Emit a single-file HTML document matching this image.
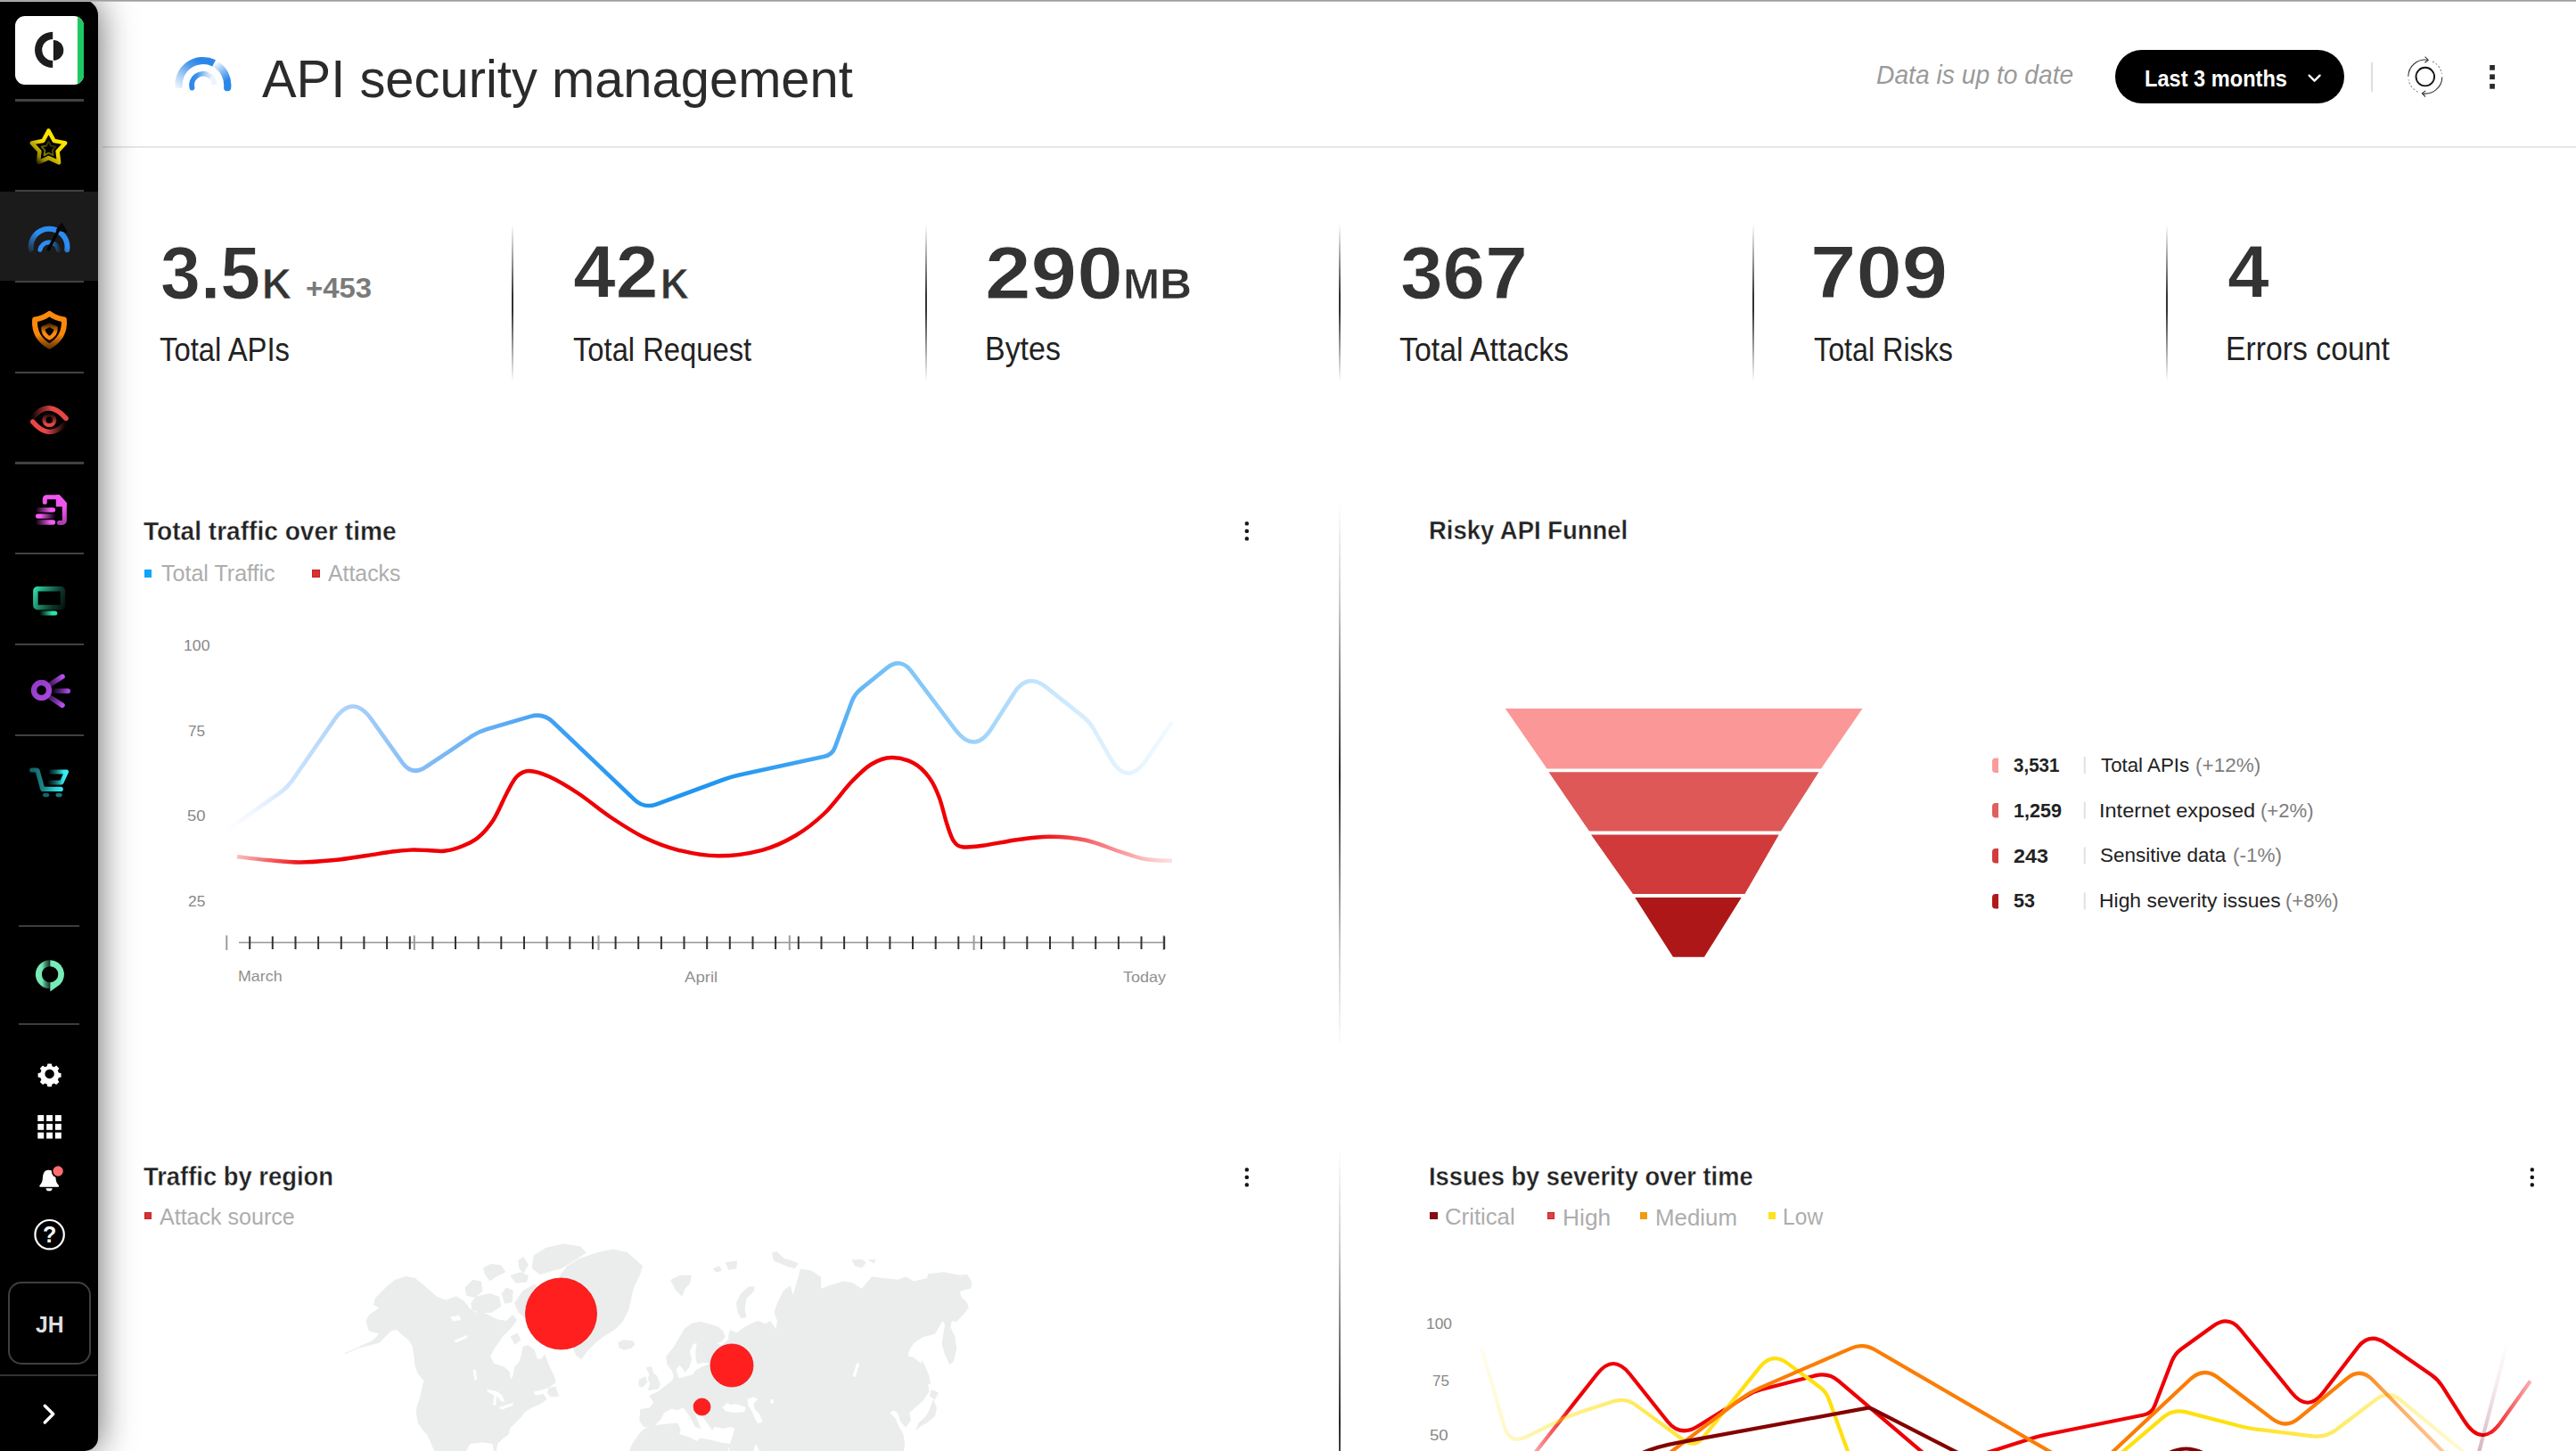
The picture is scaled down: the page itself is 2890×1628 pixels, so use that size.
<!DOCTYPE html>
<html lang="en">
<head>
<meta charset="utf-8">
<title>API security management</title>
<style>
*{box-sizing:border-box;margin:0;padding:0}
html,body{width:2890px;height:1628px;overflow:hidden;background:#fff}
body{font-family:"Liberation Sans",sans-serif;color:#222;position:relative}
.abs{position:absolute}
.t{position:absolute;white-space:nowrap;line-height:1;transform-origin:0 0}
/* top hairline */
#topline{left:0;top:0;width:2890px;height:2px;background:linear-gradient(#939393,#c4c4c4);z-index:6}
/* sidebar */
#side{left:0;top:0;width:110px;height:1628px;background:#000;border-radius:0 17px 15px 0;box-shadow:0 0 40px rgba(0,0,0,.62);z-index:5}
#side .sep{position:absolute;left:17.3px;width:76.6px;height:2.3px;background:#424242}
#side .sep2{position:absolute;left:21px;width:68px;height:2px;background:#3d3d3d}
#side .active{position:absolute;left:0;top:215.3px;width:110px;height:99.6px;background:#1b1b1b}
#logo{position:absolute;left:17px;top:18px;width:77px;height:77px;background:#fff;border-radius:11px;overflow:hidden}
#logo i{position:absolute;right:0;top:0;width:7px;height:77px;background:#1dc962}
#side svg{position:absolute;overflow:visible}
#jh{position:absolute;left:9px;top:1438px;width:93px;height:93px;border:2px solid #3f3f3f;border-radius:15px}
#jh span{font-size:25px;font-weight:bold;color:#dedede}
/* header */
#hline{left:115px;top:164px;width:2775px;height:2px;background:#e6e6e6}
#title{font-size:58.5px;color:#2b2b2b}
#upd{font-size:29px;font-style:italic;color:#9a9a9a}
#btn{left:2373px;top:56px;width:257px;height:60px;border-radius:30px;background:#000}
#btn span{position:absolute;font-size:26.5px;font-weight:bold;color:#fff;line-height:1;white-space:nowrap;transform-origin:0 0}
#hdiv{left:2660px;top:70px;width:2px;height:33px;background:#dedede}
/* kpi */
.kdiv{position:absolute;top:252px;width:2px;height:176px;background:linear-gradient(rgba(40,40,40,0),rgba(40,40,40,.95) 45%,rgba(40,40,40,.95) 55%,rgba(40,40,40,0))}
.knum{font-weight:bold;color:#333;font-size:84px;-webkit-text-stroke:.9px #fff}
.kunit{font-weight:bold;color:#333;font-size:48px;-webkit-text-stroke:.5px #fff}
.kdelta{font-weight:bold;color:#7a7a7a;font-size:32px}
.klab{font-size:36px;color:#222}
/* charts */
.ctitle{font-size:28.7px;font-weight:bold;color:#222;-webkit-text-stroke:.35px #fff}
.leg{font-size:25px;color:#adadad}
.mk{position:absolute;width:9px;height:9px}
.vdiv{position:absolute;left:1502px;width:2px}
.ax{font-size:17px;color:#878787}
.axl{font-size:16.5px;color:#909090}
.kebab rect{fill:#151515}
.fnum{font-size:22px;font-weight:bold;color:#222}
.flab{font-size:22.5px;color:#222}
.fpct{font-size:22.5px;color:#7d7d7d}
</style>
</head>
<body>
<div id="topline" class="abs"></div>

<!-- ============ HEADER ============ -->
<div id="hline" class="abs"></div>
<svg class="abs" style="left:0;top:0" width="400" height="160" viewBox="0 0 400 160"><defs><linearGradient id="hg1" gradientUnits="userSpaceOnUse" x1="198" y1="101" x2="224" y2="68"><stop offset="0" stop-color="#2b86e8" stop-opacity="0.02"/><stop offset=".35" stop-color="#2b86e8" stop-opacity=".38"/><stop offset=".75" stop-color="#2b86e8" stop-opacity=".85"/><stop offset="1" stop-color="#2b86e8"/></linearGradient><linearGradient id="hg2" gradientUnits="userSpaceOnUse" x1="241" y1="71" x2="254" y2="91"><stop offset="0" stop-color="#2b86e8" stop-opacity="0.02"/><stop offset=".5" stop-color="#2b86e8" stop-opacity=".55"/><stop offset="1" stop-color="#2b86e8"/></linearGradient><linearGradient id="hg3" gradientUnits="userSpaceOnUse" x1="214" y1="0" x2="237" y2="0"><stop offset="0" stop-color="#2b86e8"/><stop offset=".3" stop-color="#2b86e8" stop-opacity=".9"/><stop offset=".7" stop-color="#2b86e8" stop-opacity=".42"/><stop offset="1" stop-color="#2b86e8" stop-opacity=".08"/></linearGradient></defs><path d="M200.54 99.09 A27.5 27.5 0 0 1 240.11 70.91" fill="none" stroke="url(#hg1)" stroke-width="8.2"/><path d="M241.92 71.90 A27.5 27.5 0 0 1 255.17 98.14" fill="none" stroke="url(#hg2)" stroke-width="8.2" stroke-linecap="round"/><path d="M215.48 98.57 A12.7 12.7 0 0 1 234.15 84.50" fill="none" stroke="url(#hg3)" stroke-width="5.9" stroke-linecap="round"/><path d="M234.72 84.85 A12.7 12.7 0 0 1 240.49 95.06" fill="none" stroke="#2b86e8" stroke-opacity=".09" stroke-width="5.9"/></svg>
<div class="t" id="title" style="left:294.0px;top:59.5px;transform:scaleX(0.9896)">API security management</div>
<div class="t" id="upd" style="left:2105.0px;top:69.5px;transform:scaleX(0.9734)">Data is up to date</div>
<div id="btn" class="abs"><span id="btnt" style="left:33.2px;top:18.5px;transform:scaleX(0.8904)">Last 3 months</span>
<svg class="abs" style="left:214px;top:25px" width="20" height="12" viewBox="0 0 20 12"><path d="M3.6 3.6 L9.6 9.6 L15.6 3.6" fill="none" stroke="#fff" stroke-width="2.3" stroke-linecap="round" stroke-linejoin="round"/></svg>
</div>
<div id="hdiv" class="abs"></div>
<!-- REFRESH --><svg class="abs" style="left:2680px;top:40px" width="140" height="90" viewBox="2680 40 140 90"><circle cx="2720.8" cy="86.1" r="10.3" fill="none" stroke="#141414" stroke-width="1.9"/><path d="M2701.80 85.77 A19 19 0 0 1 2723.77 67.33" fill="none" stroke="#333" stroke-width="1.1"/><path d="M2739.80 86.43 A19 19 0 0 1 2717.83 104.87" fill="none" stroke="#333" stroke-width="1.1"/><path d="M2729.13 69.02 A19 19 0 0 1 2739.51 82.80" fill="none" stroke="#555" stroke-width="1" stroke-dasharray="2 2.2"/><path d="M2712.47 103.18 A19 19 0 0 1 2702.09 89.40" fill="none" stroke="#555" stroke-width="1" stroke-dasharray="2 2.2"/><path d="M2720.6 63.7 L2724.2 67.4 L2720.4 70.3" fill="none" stroke="#333" stroke-width="1.1"/><path d="M2721.0 108.5 L2717.4 104.8 L2721.2 101.9" fill="none" stroke="#333" stroke-width="1.1"/><rect x="2793.2" y="73" width="5.7" height="5.7" fill="#2a2a2a"/><rect x="2793.2" y="83.4" width="5.7" height="5.7" fill="#2a2a2a"/><rect x="2793.2" y="94" width="5.7" height="5.7" fill="#2a2a2a"/></svg><!-- /REFRESH -->

<!-- ============ KPI ============ -->
<div id="kpis">
<div class="kdiv" style="left:574px"></div>
<div class="kdiv" style="left:1038px"></div>
<div class="kdiv" style="left:1502px"></div>
<div class="kdiv" style="left:1966px"></div>
<div class="kdiv" style="left:2430px"></div>

<div class="t knum" id="k1" style="left:179.6px;top:263.5px;transform:scaleX(0.9606)">3.5</div>
<div class="t kunit" id="k1u" style="left:293.5px;top:294.5px;transform:scaleX(0.9537)">K</div>
<div class="t kdelta" id="k1d" style="left:343.0px;top:307.0px;transform:scaleX(1.0286)">+453</div>
<div class="t klab" id="l1" style="left:179.0px;top:374.5px;transform:scaleX(0.9120)">Total APIs</div>

<div class="t knum" id="k2" style="left:643.0px;top:262.5px;transform:scaleX(1.0226)">42</div>
<div class="t kunit" id="k2u" style="left:741.0px;top:294.5px;transform:scaleX(0.9215)">K</div>
<div class="t klab" id="l2" style="left:643.0px;top:374.5px;transform:scaleX(0.9091)">Total Request</div>

<div class="t knum" id="k3" style="left:1104.6px;top:263.5px;transform:scaleX(1.1049)">290</div>
<div class="t kunit" id="k3u" style="left:1259.9px;top:294.5px;transform:scaleX(1.0292)">MB</div>
<div class="t klab" id="l3" style="left:1105.2px;top:374.0px;transform:scaleX(0.9424)">Bytes</div>

<div class="t knum" id="k4" style="left:1571.0px;top:263.5px;transform:scaleX(1.0189)">367</div>
<div class="t klab" id="l4" style="left:1570.0px;top:374.5px;transform:scaleX(0.9403)">Total Attacks</div>

<div class="t knum" id="k5" style="left:2031.2px;top:262.5px;transform:scaleX(1.1008)">709</div>
<div class="t klab" id="l5" style="left:2035.0px;top:374.5px;transform:scaleX(0.8960)">Total Risks</div>

<div class="t knum" id="k6" style="left:2498.5px;top:262.5px;transform:scaleX(1.0015)">4</div>
<div class="t klab" id="l6" style="left:2497.2px;top:374.0px;transform:scaleX(0.9378)">Errors count</div>
</div>

<!-- ============ CHART FRAMES ============ -->
<div class="vdiv" style="top:563px;height:613px;background:linear-gradient(rgba(30,30,30,0),rgba(30,30,30,.22) 18%,rgba(30,30,30,.95) 50%,rgba(30,30,30,.22) 82%,rgba(30,30,30,0))"></div>
<div class="vdiv" style="top:1289px;height:613px;background:linear-gradient(rgba(30,30,30,0),rgba(30,30,30,.22) 18%,rgba(30,30,30,.95) 50%,rgba(30,30,30,.22) 82%,rgba(30,30,30,0))"></div>

<!-- CHART1 -->
<svg class="abs" style="left:0;top:0" width="2890" height="1628" viewBox="0 0 2890 1628"><defs><linearGradient id="gb" gradientUnits="userSpaceOnUse" x1="250" y1="0" x2="1316" y2="0"><stop offset="0.0000" stop-color="#e9f3ff" stop-opacity="0"/><stop offset="0.0675" stop-color="#cfe4fd" stop-opacity="1"/><stop offset="0.1360" stop-color="#a9d0fa" stop-opacity="1"/><stop offset="0.2036" stop-color="#86bdf8" stop-opacity="1"/><stop offset="0.2692" stop-color="#6bb1f6" stop-opacity="1"/><stop offset="0.3330" stop-color="#46a2f4" stop-opacity="1"/><stop offset="0.4475" stop-color="#1f95f1" stop-opacity="1"/><stop offset="0.5366" stop-color="#2397f1" stop-opacity="1"/><stop offset="0.6379" stop-color="#49a9f4" stop-opacity="1"/><stop offset="0.6660" stop-color="#62b6f5" stop-opacity="1"/><stop offset="0.7101" stop-color="#7dc4f7" stop-opacity="1"/><stop offset="0.7889" stop-color="#9bd2f9" stop-opacity="1"/><stop offset="0.8499" stop-color="#bee3fc" stop-opacity="1"/><stop offset="0.9099" stop-color="#d8eefd" stop-opacity="1"/><stop offset="0.9531" stop-color="#e3f4fe" stop-opacity="1"/><stop offset="1.0000" stop-color="#f3faff" stop-opacity="1"/></linearGradient><linearGradient id="gr" gradientUnits="userSpaceOnUse" x1="266" y1="0" x2="1316" y2="0"><stop offset="0.0000" stop-color="#ee0006" stop-opacity="0.25"/><stop offset="0.0324" stop-color="#ee0006" stop-opacity="0.6"/><stop offset="0.0752" stop-color="#ee0006" stop-opacity="1"/><stop offset="0.8514" stop-color="#ee0006" stop-opacity="1"/><stop offset="0.9181" stop-color="#ee0006" stop-opacity="0.55"/><stop offset="0.9705" stop-color="#ee0006" stop-opacity="0.25"/><stop offset="1.0000" stop-color="#ee0006" stop-opacity="0.12"/></linearGradient></defs><path d="M251.0 933.7 L314.9 888.9 Q322.2 883.7 327.4 876.4 L375.1 807.5 Q395.8 777.6 416.9 807.3 L451.3 855.7 Q462.2 870.9 477.7 860.5 L529.8 825.7 Q537.2 820.8 545.9 818.2 L594.9 803.9 Q609.3 799.6 620.2 810.0 L711.7 897.1 Q722.5 907.5 736.6 902.3 L812.2 874.5 Q820.6 871.4 829.4 869.5 L924.9 848.8 Q933.7 846.9 936.8 838.4 L955.6 787.2 Q958.8 778.8 965.8 773.1 L994.8 749.6 Q1010.3 737.2 1022.3 753.0 L1071.7 818.6 Q1093.3 847.3 1112.6 816.9 L1137.8 777.4 Q1152.6 754.1 1174.2 771.4 L1215.5 804.4 Q1222.5 810.0 1227.0 817.8 L1245.6 850.4 Q1264.6 883.7 1286.3 852.1 L1315.0 810.0" fill="none" stroke="url(#gb)" stroke-width="4.6" stroke-linejoin="round"/><path d="M266.0 961.3 C271.7 961.9 288.3 964.0 300.0 965.0 C311.7 966.0 323.5 967.5 336.0 967.5 C348.5 967.5 362.5 966.2 375.0 965.0 C387.5 963.8 400.2 961.6 411.0 960.0 C421.8 958.4 431.7 956.6 440.0 955.5 C448.3 954.4 454.3 953.9 461.0 953.6 C467.7 953.4 473.8 953.8 480.0 954.0 C486.2 954.2 492.3 955.5 498.5 954.8 C504.7 954.1 510.8 952.5 517.0 950.0 C523.2 947.5 529.9 945.0 536.0 940.0 C542.1 935.0 548.1 928.3 553.5 920.0 C558.9 911.7 564.1 898.1 568.5 890.0 C572.9 881.9 575.6 875.5 579.8 871.3 C584.0 867.1 587.5 865.0 593.5 865.0 C599.5 865.0 606.8 867.1 616.0 871.3 C625.2 875.5 636.8 882.3 648.5 890.0 C660.2 897.7 673.5 909.2 686.0 917.5 C698.5 925.8 711.0 934.0 723.5 940.0 C736.0 946.0 747.2 950.4 761.0 953.8 C774.8 957.2 790.3 960.3 806.0 960.3 C821.7 960.3 840.6 957.6 855.0 953.8 C869.4 950.0 880.8 944.4 892.5 937.5 C904.2 930.6 914.6 922.5 925.0 912.5 C935.4 902.5 946.2 886.7 955.0 877.5 C963.8 868.3 970.0 862.1 977.5 857.5 C985.0 852.9 992.1 850.2 1000.0 850.0 C1007.9 849.8 1017.9 852.5 1025.0 856.3 C1032.1 860.0 1037.7 866.0 1042.5 872.5 C1047.3 879.0 1050.5 886.2 1053.8 895.0 C1057.1 903.8 1059.8 916.9 1062.5 925.0 C1065.2 933.1 1067.1 939.6 1070.0 943.8 C1072.9 948.0 1074.6 949.4 1080.0 950.2 C1085.4 951.0 1092.1 950.2 1102.5 948.8 C1112.9 947.4 1130.0 943.7 1142.5 942.0 C1155.0 940.3 1165.0 938.7 1177.5 938.8 C1190.0 938.9 1204.6 939.8 1217.5 942.5 C1230.4 945.2 1243.8 951.4 1255.0 955.0 C1266.2 958.6 1275.0 962.2 1285.0 964.0 C1295.0 965.8 1310.0 965.5 1315.0 965.8" fill="none" stroke="url(#gr)" stroke-width="4.4" stroke-linejoin="round"/><rect x="268" y="1056.7" width="1038" height="1.6" fill="#9a9a9a"/><rect x="253.3" y="1049.5" width="2" height="16.5" fill="#9c9c9c"/><rect x="463.8" y="1049.5" width="2" height="16.5" fill="#9c9c9c"/><rect x="670.5" y="1049.5" width="2" height="16.5" fill="#9c9c9c"/><rect x="884.8" y="1049.5" width="2" height="16.5" fill="#9c9c9c"/><rect x="1091.6" y="1049.5" width="2" height="16.5" fill="#9c9c9c"/><rect x="1304.6" y="1049.5" width="2" height="16.5" fill="#9c9c9c"/><rect x="279.2" y="1050.5" width="2" height="14.5" fill="#333"/><rect x="304.8" y="1050.5" width="2" height="14.5" fill="#333"/><rect x="330.5" y="1050.5" width="2" height="14.5" fill="#333"/><rect x="356.1" y="1050.5" width="2" height="14.5" fill="#333"/><rect x="381.8" y="1050.5" width="2" height="14.5" fill="#333"/><rect x="407.4" y="1050.5" width="2" height="14.5" fill="#333"/><rect x="433.1" y="1050.5" width="2" height="14.5" fill="#333"/><rect x="458.8" y="1050.5" width="2" height="14.5" fill="#333"/><rect x="484.4" y="1050.5" width="2" height="14.5" fill="#333"/><rect x="510.0" y="1050.5" width="2" height="14.5" fill="#333"/><rect x="535.7" y="1050.5" width="2" height="14.5" fill="#333"/><rect x="561.3" y="1050.5" width="2" height="14.5" fill="#333"/><rect x="587.0" y="1050.5" width="2" height="14.5" fill="#333"/><rect x="612.6" y="1050.5" width="2" height="14.5" fill="#333"/><rect x="638.3" y="1050.5" width="2" height="14.5" fill="#333"/><rect x="664.0" y="1050.5" width="2" height="14.5" fill="#333"/><rect x="689.6" y="1050.5" width="2" height="14.5" fill="#333"/><rect x="715.2" y="1050.5" width="2" height="14.5" fill="#333"/><rect x="740.9" y="1050.5" width="2" height="14.5" fill="#333"/><rect x="766.5" y="1050.5" width="2" height="14.5" fill="#333"/><rect x="792.2" y="1050.5" width="2" height="14.5" fill="#333"/><rect x="817.8" y="1050.5" width="2" height="14.5" fill="#333"/><rect x="843.5" y="1050.5" width="2" height="14.5" fill="#333"/><rect x="869.1" y="1050.5" width="2" height="14.5" fill="#333"/><rect x="894.8" y="1050.5" width="2" height="14.5" fill="#333"/><rect x="920.5" y="1050.5" width="2" height="14.5" fill="#333"/><rect x="946.1" y="1050.5" width="2" height="14.5" fill="#333"/><rect x="971.8" y="1050.5" width="2" height="14.5" fill="#333"/><rect x="997.4" y="1050.5" width="2" height="14.5" fill="#333"/><rect x="1023.0" y="1050.5" width="2" height="14.5" fill="#333"/><rect x="1048.7" y="1050.5" width="2" height="14.5" fill="#333"/><rect x="1074.3" y="1050.5" width="2" height="14.5" fill="#333"/><rect x="1100.0" y="1050.5" width="2" height="14.5" fill="#333"/><rect x="1125.6" y="1050.5" width="2" height="14.5" fill="#333"/><rect x="1151.3" y="1050.5" width="2" height="14.5" fill="#333"/><rect x="1177.0" y="1050.5" width="2" height="14.5" fill="#333"/><rect x="1202.6" y="1050.5" width="2" height="14.5" fill="#333"/><rect x="1228.2" y="1050.5" width="2" height="14.5" fill="#333"/><rect x="1253.9" y="1050.5" width="2" height="14.5" fill="#333"/><rect x="1279.5" y="1050.5" width="2" height="14.5" fill="#333"/><rect x="1305.2" y="1050.5" width="2" height="14.5" fill="#333"/></svg>
<!-- /CHART1 -->
<div class="t ctitle" id="ct1" style="left:161.0px;top:582.0px;transform:scaleX(0.9793)">Total traffic over time</div>
<div class="mk" style="left:161.5px;top:639.3px;width:8.5px;height:8.5px;background:#12a4fb"></div>
<div class="t leg" id="lg1a" style="left:181.4px;top:630.5px;transform:scaleX(1.0019)">Total Traffic</div>
<div class="mk" style="left:350px;top:639.3px;width:8.5px;height:8.5px;background:#d83232;box-shadow:inset 0 0 0 1px #c42626"></div>
<div class="t leg" id="lg1b" style="left:367.6px;top:630.5px;transform:scaleX(0.9925)">Attacks</div>
<div class="t ax" id="y1a" style="left:205.6px;top:716.2px;transform:scaleX(1.0386)">100</div>
<div class="t ax" id="y1b" style="left:211.2px;top:812.2px;transform:scaleX(1.0136)">75</div>
<div class="t ax" id="y1c" style="left:210.3px;top:907.2px;transform:scaleX(1.0847)">50</div>
<div class="t ax" id="y1d" style="left:211.0px;top:1003.0px;transform:scaleX(1.0260)">25</div>
<div class="t axl" id="x1a" style="left:267.3px;top:1087.2px;transform:scaleX(1.0822)">March</div>
<div class="t axl" id="x1b" style="left:768.0px;top:1087.8px;transform:scaleX(1.1261)">April</div>
<div class="t axl" id="x1c" style="left:1260.0px;top:1087.8px;transform:scaleX(1.0913)">Today</div>
<svg class="abs kebab" style="left:1396px;top:585px" width="6" height="22" viewBox="0 0 6 22"><rect x="0.7" y="0.3" width="4.2" height="4.2" rx="1.5"/><rect x="0.7" y="8.8" width="4.2" height="4.2" rx="1.5"/><rect x="0.7" y="17.3" width="4.2" height="4.2" rx="1.5"/></svg>

<!-- CHART2 -->
<svg class="abs" style="left:0;top:0" width="2890" height="1628" viewBox="0 0 2890 1628"><polygon points="1688.75,795.00 2089.50,795.00 2043.00,862.50 1735.50,862.50" fill="#fb9797"/><polygon points="1737.50,866.25 2040.50,866.25 1998.00,932.50 1783.00,932.50" fill="#de5858"/><polygon points="1785.00,936.50 1995.75,936.50 1957.50,1003.00 1832.00,1003.00" fill="#d03a3a"/><polygon points="1834.25,1007.00 1953.75,1007.00 1912.00,1073.75 1877.00,1073.75" fill="#ae1718"/><path d="M2242 850.5 h-3.2 a3.8 3.8 0 0 0 -3.8 3.8 v9 a3.8 3.8 0 0 0 3.8 3.8 h3.2 z" fill="#fa9c9c"/><rect x="2337.8" y="849.0" width="2" height="19" fill="#e2e2e2"/><path d="M2242 901.0 h-3.2 a3.8 3.8 0 0 0 -3.8 3.8 v9 a3.8 3.8 0 0 0 3.8 3.8 h3.2 z" fill="#e06060"/><rect x="2337.8" y="899.5" width="2" height="19" fill="#e2e2e2"/><path d="M2242 952.0 h-3.2 a3.8 3.8 0 0 0 -3.8 3.8 v9 a3.8 3.8 0 0 0 3.8 3.8 h3.2 z" fill="#d23c3c"/><rect x="2337.8" y="950.5" width="2" height="19" fill="#e2e2e2"/><path d="M2242 1003.0 h-3.2 a3.8 3.8 0 0 0 -3.8 3.8 v9 a3.8 3.8 0 0 0 3.8 3.8 h3.2 z" fill="#b01a1a"/><rect x="2337.8" y="1001.5" width="2" height="19" fill="#e2e2e2"/></svg>
<!-- /CHART2 -->
<div class="t ctitle" id="ct2" style="left:1603.1px;top:580.5px;transform:scaleX(0.9567)">Risky API Funnel</div>
<div class="t fnum" id="fn1" style="left:2259.0px;top:847.8px;transform:scaleX(0.9349)">3,531</div>
<div class="t flab" id="fl1" style="left:2357.0px;top:847.5px;transform:scaleX(0.9901)">Total APIs</div>
<div class="t fpct" id="fp1" style="left:2463.2px;top:847.5px;transform:scaleX(1.0002)">(+12%)</div>
<div class="t fnum" id="fn2" style="left:2259.1px;top:899.0px;transform:scaleX(0.9829)">1,259</div>
<div class="t flab" id="fl2" style="left:2354.9px;top:898.5px;transform:scaleX(1.0445)">Internet exposed</div>
<div class="t fpct" id="fp2" style="left:2536.0px;top:898.5px;transform:scaleX(0.9833)">(+2%)</div>
<div class="t fnum" id="fn3" style="left:2259.0px;top:950.0px;transform:scaleX(1.0604)">243</div>
<div class="t flab" id="fl3" style="left:2356.0px;top:949.0px;transform:scaleX(1.0002)">Sensitive data</div>
<div class="t fpct" id="fp3" style="left:2504.8px;top:949.0px;transform:scaleX(1.0002)">(-1%)</div>
<div class="t fnum" id="fn4" style="left:2259.0px;top:1000.2px;transform:scaleX(0.9807)">53</div>
<div class="t flab" id="fl4" style="left:2355.0px;top:999.5px;transform:scaleX(1.0178)">High severity issues</div>
<div class="t fpct" id="fp4" style="left:2564.0px;top:999.5px;transform:scaleX(0.9833)">(+8%)</div>

<!-- CHART3 -->
<svg class="abs" style="left:0;top:0" width="1500" height="1628" viewBox="0 0 1500 1628"><path d="M435.0 1443.2 L443.5 1436.4 L455.5 1432.6 L465.7 1434.7 L476.0 1443.2 L489.7 1455.2 L499.9 1459.0 L511.9 1454.9 L520.4 1460.3 L527.3 1468.9 L534.1 1473.2 L540.9 1472.3 L547.8 1475.7 L558.0 1480.9 L568.3 1482.6 L575.1 1475.7 L579.4 1480.9 L573.4 1489.4 L563.2 1499.7 L553.8 1513.3 L549.5 1521.9 L553.8 1530.4 L564.9 1533.8 L570.9 1539.0 L572.6 1549.2 L576.0 1544.1 L577.7 1533.8 L582.8 1528.7 L585.7 1520.2 L587.1 1511.6 L592.2 1509.6 L599.1 1515.0 L602.5 1525.3 L607.6 1525.3 L611.0 1520.5 L616.2 1533.8 L621.3 1544.1 L623.0 1550.9 L616.2 1556.1 L605.9 1559.5 L597.4 1561.2 L600.8 1566.3 L609.3 1564.6 L612.7 1569.7 L605.9 1574.9 L597.4 1578.3 L588.8 1583.4 L583.7 1590.3 L576.8 1597.1 L571.7 1602.2 L570.0 1609.1 L563.2 1614.2 L558.0 1619.3 L556.3 1626.2 L558.9 1631.3 L555.5 1631.3 L552.9 1619.3 L540.9 1617.6 L527.3 1619.3 L520.4 1631.3 L489.7 1631.3 L486.2 1624.4 L482.8 1615.9 L479.4 1609.1 L474.3 1603.9 L469.1 1595.4 L467.4 1585.1 L468.3 1578.3 L471.7 1568.0 L474.3 1556.1 L476.0 1549.2 L469.1 1540.7 L465.7 1530.4 L464.9 1520.2 L463.2 1509.9 L458.9 1503.1 L450.3 1496.2 L445.2 1491.1 L438.4 1492.8 L424.7 1506.5 L400.8 1512.5 L387.1 1518.8 L399.1 1513.3 L417.9 1504.8 L426.4 1496.2 L414.4 1492.8 L411.0 1482.6 L414.4 1475.7 L426.4 1467.2 L419.6 1463.8 L421.3 1456.9Z M616.2 1557.8 L623.0 1556.1 L626.4 1566.3 L617.9 1566.7 L614.4 1562.9Z M522.1 1445.0 L530.7 1436.4 L539.2 1438.1 L540.9 1448.4 L532.4 1455.2 L523.8 1453.5Z M529.0 1462.1 L534.1 1455.2 L549.5 1451.8 L559.7 1455.2 L561.5 1465.5 L551.2 1472.3 L537.5 1472.3 L529.8 1468.9Z M542.6 1422.7 L551.2 1418.5 L561.5 1420.2 L566.6 1427.0 L558.0 1431.3 L549.5 1436.4 L544.4 1429.6Z M563.2 1451.8 L568.3 1445.0 L575.1 1448.4 L574.3 1460.3 L566.6 1462.1Z M573.4 1431.3 L583.7 1427.9 L592.2 1431.3 L590.5 1438.1 L578.5 1439.0Z M599.1 1409.1 L612.7 1400.5 L631.5 1396.2 L650.3 1398.8 L657.2 1405.6 L643.5 1414.2 L629.8 1422.7 L616.2 1426.2 L605.9 1429.6 L597.4 1422.7Z M582.0 1414.2 L587.1 1410.8 L592.2 1419.3 L587.1 1427.9 L582.8 1422.7Z M577.7 1462.1 L587.1 1448.4 L599.1 1441.5 L612.7 1448.4 L623.0 1462.1 L629.8 1475.7 L636.7 1489.4 L633.2 1503.1 L623.0 1506.5 L609.3 1499.7 L599.1 1489.4 L590.5 1479.1 L582.0 1472.3Z M573.4 1499.7 L580.3 1496.2 L583.7 1503.1 L577.7 1508.2Z M626.4 1436.4 L629.8 1429.6 L636.7 1421.0 L650.3 1412.5 L670.9 1405.6 L687.9 1402.2 L703.3 1405.6 L713.6 1414.2 L720.4 1421.0 L717.0 1431.3 L710.2 1445.0 L707.6 1456.9 L705.0 1468.9 L698.2 1482.6 L689.7 1491.1 L676.0 1499.7 L667.4 1506.5 L658.9 1515.0 L652.1 1524.4 L646.9 1520.2 L641.8 1509.9 L636.7 1496.2 L629.8 1475.7Z M693.9 1506.5 L699.9 1503.9 L709.3 1504.8 L711.9 1508.2 L707.6 1512.5 L699.9 1514.2 L694.8 1511.6Z M748.7 1530.4 L747.9 1521.9 L756.4 1511.6 L763.2 1499.7 L768.4 1491.1 L776.9 1485.1 L785.5 1483.4 L795.7 1486.0 L806.0 1489.4 L811.1 1494.5 L812.8 1499.7 L809.4 1504.8 L802.6 1507.4 L809.4 1509.9 L817.9 1503.1 L817.9 1497.9 L819.7 1492.8 L826.5 1496.2 L833.3 1491.1 L841.9 1486.0 L850.4 1482.6 L859.0 1486.0 L864.1 1482.6 L870.9 1492.8 L872.6 1482.6 L869.2 1472.3 L872.6 1462.1 L879.5 1448.4 L886.3 1443.2 L889.7 1455.2 L896.6 1431.3 L898.3 1424.4 L910.3 1426.2 L920.5 1433.0 L920.5 1446.7 L929.1 1443.2 L946.2 1438.1 L956.4 1439.8 L966.7 1446.7 L978.6 1433.0 L990.6 1434.7 L1007.7 1436.4 L1016.2 1433.0 L1024.8 1438.1 L1040.2 1434.7 L1041.9 1429.6 L1059.0 1427.9 L1076.1 1431.3 L1084.6 1430.4 L1089.7 1438.1 L1088.9 1445.0 L1076.1 1448.4 L1077.8 1455.2 L1084.6 1462.1 L1086.3 1467.2 L1079.5 1475.7 L1072.6 1482.6 L1067.5 1480.9 L1065.8 1489.4 L1070.9 1499.7 L1072.6 1513.3 L1069.2 1527.0 L1065.8 1530.4 L1060.7 1520.2 L1057.3 1508.2 L1059.0 1496.2 L1060.7 1486.0 L1057.3 1480.9 L1048.7 1496.2 L1035.0 1499.7 L1024.8 1506.5 L1019.7 1515.0 L1017.9 1521.9 L1024.8 1523.6 L1033.3 1530.4 L1036.8 1540.7 L1040.2 1550.9 L1041.9 1561.2 L1035.0 1571.5 L1024.8 1580.0 L1019.7 1585.1 L1021.4 1593.7 L1016.2 1600.5 L1011.1 1595.4 L1007.7 1585.1 L1002.6 1581.7 L997.4 1585.1 L1004.3 1592.0 L1007.7 1600.5 L1012.8 1609.1 L1014.5 1619.3 L1012.8 1631.3 L853.8 1631.3 L850.4 1622.7 L847.0 1619.3 L844.4 1631.3 L819.7 1631.3 L817.9 1622.7 L819.7 1619.3 L823.1 1609.1 L824.8 1602.2 L819.7 1600.5 L811.1 1602.2 L802.6 1600.5 L800.9 1592.0 L806.0 1588.5 L811.1 1585.1 L802.6 1598.8 L799.1 1603.9 L795.7 1598.8 L790.6 1592.0 L785.5 1583.4 L780.3 1576.6 L775.2 1578.3 L778.6 1585.1 L782.1 1593.7 L785.5 1602.2 L780.3 1600.5 L776.9 1593.7 L771.8 1585.1 L766.7 1578.3 L759.8 1581.7 L753.0 1580.0 L744.4 1585.1 L741.0 1592.0 L734.2 1598.8 L722.2 1600.5 L717.9 1593.7 L718.8 1581.7 L729.1 1580.0 L734.2 1573.2 L729.1 1566.3 L739.3 1561.2 L747.9 1554.4 L754.7 1549.2 L756.4 1544.1 L754.4 1537.3Z M725.6 1534.7 L730.8 1533.8 L732.5 1540.7 L736.8 1544.1 L740.2 1552.6 L738.5 1557.8 L727.4 1559.5 L729.9 1552.6 L727.4 1546.7 L729.1 1542.4Z M717.1 1548.4 L723.9 1545.0 L725.6 1550.9 L720.5 1556.1 L717.1 1554.4Z M753.0 1436.4 L763.2 1431.3 L775.2 1431.3 L773.5 1439.8 L768.4 1445.0 L765.0 1453.5 L758.1 1446.7Z M800.9 1423.6 L806.8 1421.0 L809.4 1425.3 L803.4 1427.0Z M814.5 1416.8 L826.5 1415.0 L825.6 1422.7 L817.9 1424.4Z M828.2 1472.3 L826.5 1462.1 L831.6 1451.8 L840.2 1444.1 L846.2 1444.1 L845.3 1448.4 L836.8 1456.9 L835.0 1468.9 L836.8 1477.4 L831.6 1478.3Z M866.7 1405.6 L870.9 1404.8 L879.5 1412.5 L886.3 1414.2 L894.9 1417.6 L891.5 1422.7 L884.6 1421.0 L874.4 1416.8 L868.4 1414.2Z M956.4 1414.2 L966.7 1413.3 L970.9 1416.8 L966.7 1421.9 L959.8 1420.2Z M975.2 1413.8 L982.1 1413.8 L980.3 1416.8Z M1034.2 1527.0 L1037.6 1533.8 L1041.9 1544.1 L1043.6 1552.6 L1040.2 1550.9 L1035.9 1539.0Z M1045.3 1559.5 L1052.1 1562.9 L1048.7 1569.7 L1043.6 1566.3Z M1047.0 1571.5 L1050.4 1580.0 L1048.7 1588.5 L1040.2 1595.4 L1031.6 1600.5 L1028.2 1603.9 L1030.8 1597.1 L1038.5 1590.3 L1043.6 1581.7Z M705.1 1631.3 L710.3 1619.3 L718.8 1607.4 L727.4 1600.5 L742.7 1598.8 L759.8 1597.1 L763.2 1603.9 L761.5 1609.1 L771.8 1612.5 L782.1 1617.6 L785.5 1614.2 L795.7 1615.9 L809.4 1619.3 L817.9 1620.2 L816.2 1626.2 L817.9 1631.3Z" fill="#ebecec" stroke="#ebecec" stroke-width="1.2" stroke-linejoin="round"/><path d="M546.1 1558.6 L558.0 1561.5 L563.2 1565.5 L566.6 1573.2 L561.5 1571.5 L557.2 1566.3 L556.3 1576.6 L553.2 1576.6 L554.3 1565.5 L546.9 1561.5Z M559.7 1579.1 L575.1 1574.0 L576.0 1576.6 L563.2 1581.4Z M505.0 1477.4 L515.3 1475.7 L517.0 1480.9 L508.5 1482.6Z M509.3 1503.9 L523.8 1497.9 L524.7 1500.5 L511.9 1506.5Z M530.7 1536.4 L533.8 1537.3 L535.0 1548.4 L532.4 1548.4Z M759.8 1541.5 L758.6 1536.4 L762.4 1531.8 L765.8 1535.6 L768.4 1539.8 L773.5 1533.8 L776.1 1525.3 L773.8 1516.8 L777.3 1508.5 L781.7 1506.8 L780.3 1516.8 L780.7 1525.3 L782.4 1530.4 L788.9 1528.7 L797.1 1529.7 L788.9 1533.0 L780.3 1537.3 L776.9 1542.4 L768.4 1544.4 L761.9 1546.5Z M810.3 1579.1 L816.2 1574.0 L819.7 1576.6 L824.8 1574.9 L829.9 1576.6 L836.8 1579.1 L835.0 1584.3 L824.8 1585.1 L814.5 1583.4Z M838.5 1569.7 L845.3 1567.2 L850.4 1569.7 L845.3 1574.9 L847.0 1581.7 L852.1 1586.8 L855.6 1595.4 L850.4 1597.1 L847.0 1592.0 L843.6 1583.4 L839.3 1576.6Z M864.1 1570.6 L867.5 1569.7 L868.4 1574.0 L865.0 1574.9Z M956.4 1544.1 L961.5 1528.7 L964.1 1530.4 L959.8 1545.0Z" fill="#fff"/><circle cx="629.5" cy="1474" r="40" fill="#ff1f1f" stroke="#e81414" stroke-width=".8"/><circle cx="821" cy="1532" r="24" fill="#ff1f1f" stroke="#e81414" stroke-width=".8"/><circle cx="787.5" cy="1578.5" r="9.5" fill="#ff1f1f" stroke="#e81414" stroke-width=".8"/></svg>
<!-- /CHART3 -->
<div class="t ctitle" id="ct3" style="left:161.2px;top:1306.2px;transform:scaleX(0.9541)">Traffic by region</div>
<div class="mk" style="left:161.6px;top:1359.7px;width:8.4px;height:8.4px;background:#d83232;box-shadow:inset 0 0 0 1px #c42626"></div>
<div class="t leg" id="lg3a" style="left:179.0px;top:1353.0px;transform:scaleX(1.0015)">Attack source</div>
<svg class="abs kebab" style="left:1396px;top:1310px" width="6" height="22" viewBox="0 0 6 22"><rect x="0.7" y="0.3" width="4.2" height="4.2" rx="1.5"/><rect x="0.7" y="8.8" width="4.2" height="4.2" rx="1.5"/><rect x="0.7" y="17.3" width="4.2" height="4.2" rx="1.5"/></svg>

<!-- CHART4 -->
<svg class="abs" style="left:0;top:0" width="2890" height="1628" viewBox="0 0 2890 1628"><defs><linearGradient id="g4r" gradientUnits="userSpaceOnUse" x1="1700" y1="0" x2="2840" y2="0"><stop offset="0.0000" stop-color="#ee0005" stop-opacity="0.2"/><stop offset="0.0193" stop-color="#ee0005" stop-opacity="0.35"/><stop offset="0.0570" stop-color="#ee0005" stop-opacity="1"/><stop offset="0.9518" stop-color="#ee0005" stop-opacity="1"/><stop offset="0.9737" stop-color="#ee0005" stop-opacity="0.7"/><stop offset="1.0000" stop-color="#ee0005" stop-opacity="0.3"/></linearGradient><linearGradient id="g4o" gradientUnits="userSpaceOnUse" x1="1860" y1="0" x2="2760" y2="0"><stop offset="0.0000" stop-color="#fb7d05" stop-opacity="1"/><stop offset="0.8667" stop-color="#fb7d05" stop-opacity="1"/><stop offset="0.9222" stop-color="#fb7d05" stop-opacity="0.62"/><stop offset="0.9667" stop-color="#fb7d05" stop-opacity="0.45"/><stop offset="1.0000" stop-color="#fb7d05" stop-opacity="0.3"/></linearGradient><linearGradient id="g4y" gradientUnits="userSpaceOnUse" x1="1655" y1="0" x2="2780" y2="0"><stop offset="0.0000" stop-color="#ffe00c" stop-opacity="0.03"/><stop offset="0.0311" stop-color="#ffe00c" stop-opacity="0.22"/><stop offset="0.0578" stop-color="#ffe00c" stop-opacity="0.35"/><stop offset="0.1467" stop-color="#ffe00c" stop-opacity="0.62"/><stop offset="0.2178" stop-color="#ffe00c" stop-opacity="0.85"/><stop offset="0.2711" stop-color="#ffe00c" stop-opacity="1"/><stop offset="0.7511" stop-color="#ffe00c" stop-opacity="1"/><stop offset="0.8044" stop-color="#ffe00c" stop-opacity="0.8"/><stop offset="0.8844" stop-color="#ffe00c" stop-opacity="0.55"/><stop offset="0.9467" stop-color="#ffe00c" stop-opacity="0.3"/><stop offset="1.0000" stop-color="#ffe00c" stop-opacity="0.12"/></linearGradient><linearGradient id="g4c" gradientUnits="userSpaceOnUse" x1="0" y1="1628" x2="0" y2="1505"><stop offset="0" stop-color="#7a0a2a" stop-opacity=".3"/><stop offset="0.6" stop-color="#7a0a2a" stop-opacity=".08"/><stop offset="1" stop-color="#7a0a2a" stop-opacity="0"/></linearGradient></defs><path d="M1714.2 1640.0 L1791.9 1541.5 Q1809.9 1518.6 1828.1 1541.3 L1870.7 1594.7 Q1884.9 1612.4 1904.3 1600.5 L1959.9 1566.0 Q1967.5 1561.2 1976.2 1559.0 L2036.6 1543.4 Q2051.2 1539.6 2062.6 1549.3 L2169.1 1640.0 M2197.4 1640.0 L2278.9 1614.0 Q2287.5 1611.3 2296.3 1609.5 L2405.2 1587.5 Q2414.1 1585.7 2417.3 1577.3 L2436.7 1527.1 Q2440.0 1518.8 2447.3 1513.5 L2483.0 1487.7 Q2500.1 1475.3 2513.4 1491.7 L2571.2 1562.8 Q2589.2 1584.9 2606.5 1562.3 L2645.2 1511.7 Q2658.2 1494.7 2675.9 1506.8 L2727.6 1542.4 Q2735.0 1547.5 2739.8 1555.1 L2764.6 1594.1 Q2784.6 1625.4 2806.1 1595.2 L2838.8 1549.5" fill="none" stroke="url(#g4r)" stroke-width="4.2" stroke-linejoin="round"/><path d="M1662.0 1512.5 L1687.6 1600.4 Q1693.7 1621.4 1713.4 1611.7 L1751.9 1592.7 Q1760.0 1588.8 1768.5 1585.9 L1809.2 1572.4 Q1823.5 1567.7 1835.5 1576.6 L1888.2 1615.5 Q1901.0 1625.0 1910.9 1612.6 L1974.6 1533.6 Q1988.1 1516.9 2005.4 1529.6 L2041.5 1556.2 Q2048.7 1561.5 2051.8 1569.9 L2077.3 1640.0 M2368.4 1640.0 L2426.7 1590.3 Q2438.1 1580.6 2452.6 1584.4 L2513.8 1600.2 Q2522.5 1602.5 2531.4 1603.6 L2594.4 1611.3 Q2609.2 1613.1 2621.2 1604.0 L2665.7 1570.1 Q2679.5 1559.6 2692.8 1570.6 L2777.1 1640.0" fill="none" stroke="url(#g4y)" stroke-width="4.2" stroke-linejoin="round"/><path d="M1860.2 1640.0 L1952.9 1569.7 Q1962.5 1562.5 1973.5 1557.7 L2076.5 1512.8 Q2090.2 1506.8 2103.2 1514.3 L2319.2 1640.0 M2358.4 1640.0 L2457.5 1547.3 Q2472.3 1533.5 2488.5 1545.7 L2549.2 1591.9 Q2564.3 1603.4 2578.9 1591.3 L2633.1 1546.6 Q2648.1 1534.1 2661.8 1548.1 L2751.7 1640.0" fill="none" stroke="url(#g4o)" stroke-width="4.2" stroke-linejoin="round"/><path d="M1822.0 1640.0 L1839.0 1631.8 Q1856.0 1623.6 1881.6 1618.9 L2094.1 1579.9 Q2097.5 1579.3 2100.6 1580.9 L2216.0 1640.0 M2432 1631 Q2452.5 1620 2473 1631" fill="none" stroke="#840000" stroke-width="4.2" stroke-linejoin="round"/><path d="M2778.3 1640 L2812.5 1508" fill="none" stroke="url(#g4c)" stroke-width="4.2"/></svg>
<!-- /CHART4 -->
<div class="t ctitle" id="ct4" style="left:1603.1px;top:1306.0px;transform:scaleX(0.9500)">Issues by severity over time</div>
<div class="mk" style="left:1604.4px;top:1359.9px;width:8.4px;height:8.4px;background:#8a0b12;box-shadow:inset 0 0 0 1px #7a060c"></div>
<div class="t leg" id="lg4a" style="left:1621.2px;top:1353.1px;transform:scaleX(1.0297)">Critical</div>
<div class="mk" style="left:1735.8px;top:1359.9px;width:8.4px;height:8.4px;background:#e04242;box-shadow:inset 0 0 0 1px #c62424"></div>
<div class="t leg" id="lg4b" style="left:1752.5px;top:1353.6px;transform:scaleX(1.0545)">High</div>
<div class="mk" style="left:1839.6px;top:1359.9px;width:8.4px;height:8.4px;background:#f29b0c"></div>
<div class="t leg" id="lg4c" style="left:1856.9px;top:1353.6px;transform:scaleX(1.0354)">Medium</div>
<div class="mk" style="left:1983.6px;top:1359.9px;width:8.4px;height:8.4px;background:#ffe21c"></div>
<div class="t leg" id="lg4d" style="left:2000.4px;top:1353.2px;transform:scaleX(0.9847)">Low</div>
<div class="t ax" id="y4a" style="left:1600.4px;top:1477.0px;transform:scaleX(1.0234)">100</div>
<div class="t ax" id="y4b" style="left:1606.9px;top:1541.0px;transform:scaleX(1.0034)">75</div>
<div class="t ax" id="y4c" style="left:1604.2px;top:1602.0px;transform:scaleX(1.0963)">50</div>
<svg class="abs kebab" style="left:2838px;top:1310px" width="6" height="22" viewBox="0 0 6 22"><rect x="0.7" y="0.3" width="4.2" height="4.2" rx="1.5"/><rect x="0.7" y="8.8" width="4.2" height="4.2" rx="1.5"/><rect x="0.7" y="17.3" width="4.2" height="4.2" rx="1.5"/></svg>


<!-- ============ SIDEBAR ============ -->
<div id="side" class="abs">
<div id="logo"><i></i></div>
<div class="active"></div>
<div class="sep" style="top:111.25px"></div>
<div class="sep" style="top:213px"></div>
<div class="sep" style="top:314.75px"></div>
<div class="sep" style="top:416.5px"></div>
<div class="sep" style="top:518.25px"></div>
<div class="sep" style="top:620px"></div>
<div class="sep" style="top:721.75px"></div>
<div class="sep" style="top:823.5px"></div>
<div class="sep2" style="top:1038px"></div>
<div class="sep2" style="top:1148px"></div>
<div id="jh"><span class="t" id="jht" style="left:28.8px;top:34.4px;transform:scaleX(0.9886)">JH</span></div>
<div class="abs" style="left:0;top:1542px;width:109px;height:2px;background:#333"></div>
<!-- ICONS -->
<svg style="left:0;top:0" width="110" height="1628" viewBox="0 0 110 1628">
<defs>
<linearGradient id="gStar" gradientUnits="userSpaceOnUse" x1="68" y1="152" x2="41" y2="184"><stop offset="0" stop-color="#ffe900"/><stop offset=".45" stop-color="#f2da00"/><stop offset=".8" stop-color="#d8c200" stop-opacity=".7"/><stop offset="1" stop-color="#d8c200" stop-opacity=".05"/></linearGradient>
<linearGradient id="gStar2" gradientUnits="userSpaceOnUse" x1="62" y1="158" x2="48" y2="176"><stop offset="0" stop-color="#a89800" stop-opacity=".12"/><stop offset="1" stop-color="#c8b400" stop-opacity=".8"/></linearGradient>
<linearGradient id="gGa" gradientUnits="userSpaceOnUse" x1="32" y1="285" x2="43" y2="262"><stop offset="0" stop-color="#2c8cf2" stop-opacity=".05"/><stop offset="1" stop-color="#2c8cf2"/></linearGradient>
<linearGradient id="gGb" gradientUnits="userSpaceOnUse" x1="44" y1="0" x2="67" y2="0"><stop offset="0" stop-color="#2c8cf2"/><stop offset=".45" stop-color="#2c8cf2"/><stop offset="1" stop-color="#2c8cf2" stop-opacity=".12"/></linearGradient>
<linearGradient id="gSh" gradientUnits="userSpaceOnUse" x1="0" y1="350" x2="0" y2="392"><stop offset="0" stop-color="#ff8a0c"/><stop offset=".62" stop-color="#fa860a"/><stop offset="1" stop-color="#b05a05" stop-opacity=".55"/></linearGradient>
<linearGradient id="gSh2" gradientUnits="userSpaceOnUse" x1="0" y1="361" x2="0" y2="382"><stop offset="0" stop-color="#ff8a0c" stop-opacity=".1"/><stop offset=".6" stop-color="#ff8a0c"/><stop offset="1" stop-color="#ff8a0c"/></linearGradient>
<linearGradient id="gEy1" gradientUnits="userSpaceOnUse" x1="36" y1="0" x2="66" y2="0"><stop offset="0" stop-color="#e84646" stop-opacity=".06"/><stop offset=".75" stop-color="#e84646"/><stop offset="1" stop-color="#e84646"/></linearGradient>
<linearGradient id="gEy2" gradientUnits="userSpaceOnUse" x1="44" y1="0" x2="73" y2="0"><stop offset="0" stop-color="#e84646"/><stop offset=".25" stop-color="#e84646"/><stop offset="1" stop-color="#e84646" stop-opacity=".04"/></linearGradient>
<linearGradient id="gEy3" gradientUnits="userSpaceOnUse" x1="0" y1="464" x2="0" y2="479"><stop offset="0" stop-color="#e84646" stop-opacity=".05"/><stop offset=".8" stop-color="#e84646"/><stop offset="1" stop-color="#e84646"/></linearGradient>
<linearGradient id="gDo" gradientUnits="userSpaceOnUse" x1="0" y1="556" x2="0" y2="590"><stop offset="0" stop-color="#f258f2"/><stop offset=".45" stop-color="#ec54ec"/><stop offset="1" stop-color="#a13aa1"/></linearGradient>
<linearGradient id="gDoR" gradientUnits="userSpaceOnUse" x1="40" y1="0" x2="62" y2="0"><stop offset="0" stop-color="#f45af4" stop-opacity=".02"/><stop offset=".75" stop-color="#f45af4"/><stop offset="1" stop-color="#f45af4"/></linearGradient>
<linearGradient id="gDoL" gradientUnits="userSpaceOnUse" x1="40" y1="0" x2="62" y2="0"><stop offset="0" stop-color="#f45af4"/><stop offset=".25" stop-color="#f45af4"/><stop offset="1" stop-color="#f45af4" stop-opacity=".02"/></linearGradient>
<linearGradient id="gMo" gradientUnits="userSpaceOnUse" x1="38" y1="662" x2="74" y2="680"><stop offset="0" stop-color="#2fdda9"/><stop offset=".3" stop-color="#2ac79a" stop-opacity=".72"/><stop offset=".65" stop-color="#2ac79a" stop-opacity=".3"/><stop offset="1" stop-color="#2ac79a" stop-opacity=".07"/></linearGradient>
<linearGradient id="gMo2" gradientUnits="userSpaceOnUse" x1="44" y1="0" x2="62" y2="0"><stop offset="0" stop-color="#30dfab" stop-opacity="0"/><stop offset=".8" stop-color="#30dfab"/><stop offset="1" stop-color="#30dfab"/></linearGradient>
<linearGradient id="gSr" gradientUnits="userSpaceOnUse" x1="36" y1="765" x2="58" y2="785"><stop offset="0" stop-color="#8f3ac4"/><stop offset="1" stop-color="#ac4ae2"/></linearGradient>
<linearGradient id="gSr1" gradientUnits="userSpaceOnUse" x1="57" y1="767" x2="70" y2="759"><stop offset="0" stop-color="#8a35c0" stop-opacity=".55"/><stop offset="1" stop-color="#b750f2"/></linearGradient>
<linearGradient id="gSr2" gradientUnits="userSpaceOnUse" x1="60" y1="0" x2="76" y2="0"><stop offset="0" stop-color="#8a35c0" stop-opacity=".15"/><stop offset="1" stop-color="#a848e4"/></linearGradient>
<linearGradient id="gSr3" gradientUnits="userSpaceOnUse" x1="57" y1="783" x2="70" y2="791"><stop offset="0" stop-color="#8a35c0" stop-opacity=".55"/><stop offset="1" stop-color="#b750f2"/></linearGradient>
<linearGradient id="gCa" gradientUnits="userSpaceOnUse" x1="34" y1="0" x2="70" y2="0"><stop offset="0" stop-color="#1d9a9c" stop-opacity=".62"/><stop offset=".4" stop-color="#21a6a9" stop-opacity=".8"/><stop offset=".75" stop-color="#2bcdd1"/><stop offset="1" stop-color="#38eaee"/></linearGradient>
<linearGradient id="gCb" gradientUnits="userSpaceOnUse" x1="53" y1="0" x2="74" y2="0"><stop offset="0" stop-color="#30dfe4" stop-opacity="0"/><stop offset=".45" stop-color="#30dfe4" stop-opacity=".45"/><stop offset=".85" stop-color="#34e4e8"/><stop offset="1" stop-color="#3cf0f2"/></linearGradient>
<linearGradient id="gGr" gradientUnits="userSpaceOnUse" x1="40" y1="0" x2="56" y2="0"><stop offset="0" stop-color="#7aeeba"/><stop offset=".45" stop-color="#74e6b3"/><stop offset="1" stop-color="#2a6e54" stop-opacity=".55"/></linearGradient>
</defs>
<!-- logo glyph -->
<path d="M59.2 35.7 A20.2 20.2 0 0 0 59.2 76.1 L59.2 67.9 A12 12 0 0 1 59.2 43.9 Z" fill="#1d1d1f"/>
<path d="M59.9 45 A11.4 11.4 0 0 1 59.9 67.8 Z" fill="#1d1d1f"/>
<!-- star -->
<polygon points="54.5,146.6 60.7,158 73.2,160.4 64.6,169.8 66.1,182.4 54.5,177.1 42.9,182.4 44.4,169.8 35.8,160.4 48.3,158" fill="none" stroke="url(#gStar)" stroke-width="4.5" stroke-linejoin="round"/>
<polygon points="54.6,158.6 57.2,163.6 62.6,164.5 58.8,168.6 59.6,174.2 54.6,171.7 49.6,174.2 50.4,168.6 46.6,164.5 52,163.6" fill="none" stroke="url(#gStar2)" stroke-width="1.9" stroke-linejoin="round"/>
<!-- gauge (active) -->
<path d="M34.8 279.6 A20.4 20.4 0 1 1 75.2 280.3" fill="none" stroke="url(#gGa)" stroke-width="5.9" stroke-linecap="round"/>
<path d="M44.9 280.3 A10.5 10.5 0 0 1 65.6 280.6" fill="none" stroke="url(#gGb)" stroke-width="5" stroke-linecap="round"/>
<line x1="54.3" y1="280" x2="66.3" y2="257" stroke="#040406" stroke-width="3.4" stroke-linecap="round"/><polygon points="69.3,249.4 76,261.2 62.6,258.2" fill="#050507"/>
<!-- shield -->
<path d="M55.5 351.9 C50.5 355.6 44.6 357.9 39.1 358.5 C38.2 371.5 43.6 382 55.5 388.6 C67.4 382 72.8 371.5 71.9 358.5 C66.4 357.9 60.5 355.6 55.5 351.9 Z" fill="none" stroke="url(#gSh)" stroke-width="6" stroke-linejoin="round"/>
<path d="M55.5 364.6 C53.4 366.2 50.8 367.3 48.4 367.6 C48.2 372.8 50.6 376.7 55.5 379.2 C60.4 376.7 62.8 372.8 62.6 367.6 C60.2 367.3 57.6 366.2 55.5 364.6 Z" fill="none" stroke="url(#gSh2)" stroke-width="4.4" stroke-linejoin="round"/>
<!-- eye -->
<path d="M37 468 Q54.5 447 74 469.4" fill="none" stroke="url(#gEy1)" stroke-width="5.6" stroke-linecap="round"/>
<path d="M36.8 473.2 Q54.5 494 72 476.5" fill="none" stroke="url(#gEy2)" stroke-width="5.6" stroke-linecap="round"/>
<circle cx="55.3" cy="471.2" r="5.9" fill="none" stroke="url(#gEy3)" stroke-width="4.3"/>
<!-- doc -->
<path d="M50.3 563.6 V560 a2.3 2.3 0 0 1 2.3 -2.3 H65.6 L72.3 565 V584.2 a2.3 2.3 0 0 1 -2.3 2.3 H66.5" fill="none" stroke="url(#gDo)" stroke-width="5" stroke-linecap="round" stroke-linejoin="miter"/>
<path d="M62.8 555.3 H66.6 L74.8 564.4 V568.6 H62.8 Z" fill="#ee56ee"/>
<line x1="42.6" y1="572.1" x2="59.5" y2="572.1" stroke="url(#gDoR)" stroke-width="5.3" stroke-linecap="round"/>
<line x1="42.6" y1="579.1" x2="59.5" y2="579.1" stroke="url(#gDoL)" stroke-width="5.3" stroke-linecap="round"/>
<line x1="42.6" y1="586" x2="59.5" y2="586" stroke="url(#gDoR)" stroke-width="5.3" stroke-linecap="round"/>
<!-- monitor -->
<rect x="39.9" y="660.8" width="30.6" height="20.6" rx="2.2" fill="none" stroke="url(#gMo)" stroke-width="5.5"/>
<line x1="46.5" y1="688.1" x2="61.8" y2="688.1" stroke="url(#gMo2)" stroke-width="5" stroke-linecap="round"/>
<!-- share -->
<line x1="57.6" y1="767" x2="70" y2="759.2" stroke="url(#gSr1)" stroke-width="5.6" stroke-linecap="round"/>
<line x1="62" y1="775.2" x2="76.2" y2="775.2" stroke="url(#gSr2)" stroke-width="5.6" stroke-linecap="round"/>
<line x1="57.2" y1="783" x2="70" y2="791.3" stroke="url(#gSr3)" stroke-width="5.6" stroke-linecap="round"/>
<circle cx="46.5" cy="774.4" r="8.5" fill="none" stroke="url(#gSr)" stroke-width="6.3"/>
<!-- cart -->
<path d="M35.8 864 H40.4 a2 2 0 0 1 1.9 1.4 L47.8 885.4 H68.2" fill="none" stroke="url(#gCa)" stroke-width="5.2" stroke-linecap="round" stroke-linejoin="round"/>
<path d="M55.3 866 H74.6 L69 878 H53.4" fill="none" stroke="url(#gCb)" stroke-width="4.8" stroke-linejoin="round"/>
<ellipse cx="51.6" cy="892" rx="3.7" ry="2.3" fill="#22a8aa" opacity=".6"/>
<ellipse cx="66.1" cy="892" rx="3.7" ry="2.3" fill="#27b8ba" opacity=".65"/>
<!-- green ring -->
<path d="M55.9 1077.2 A16 16 0 0 0 55.9 1109.2 L55.9 1102.2 A9 9 0 0 1 55.9 1084.2 Z" fill="url(#gGr)"/>
<path d="M56.3 1077.2 A16 16 0 0 1 67.4 1104.4 L56.3 1112.4 L56.3 1102.2 A9 9 0 0 0 56.3 1084.2 Z" fill="#78ecb8"/>
<!-- gear -->
<g transform="translate(55.6 1204.9) scale(.86)" fill="#fff">
<path d="M-2.6 -13.4 h5.2 l.7 3.3 a10.4 10.4 0 0 1 2.7 1.1 l2.8 -1.8 3.7 3.7 -1.8 2.8 a10.4 10.4 0 0 1 1.1 2.7 l3.3 .7 v5.2 l-3.3 .7 a10.4 10.4 0 0 1 -1.1 2.7 l1.8 2.8 -3.7 3.7 -2.8 -1.8 a10.4 10.4 0 0 1 -2.7 1.1 l-.7 3.3 h-5.2 l-.7 -3.3 a10.4 10.4 0 0 1 -2.7 -1.1 l-2.8 1.8 -3.7 -3.7 1.8 -2.8 a10.4 10.4 0 0 1 -1.1 -2.7 l-3.3 -.7 v-5.2 l3.3 -.7 a10.4 10.4 0 0 1 1.1 -2.7 l-1.8 -2.8 3.7 -3.7 2.8 1.8 a10.4 10.4 0 0 1 2.7 -1.1 z M0 -6.1 a6.1 6.1 0 1 0 0 12.2 a6.1 6.1 0 1 0 0 -12.2 z" fill-rule="evenodd"/>
</g>
<!-- grid -->
<g fill="#fff">
<rect x="42.3" y="1251.1" width="6.9" height="6.9"/><rect x="52.1" y="1251.1" width="6.9" height="6.9"/><rect x="61.9" y="1251.1" width="6.9" height="6.9"/>
<rect x="42.3" y="1260.9" width="6.9" height="6.9"/><rect x="52.1" y="1260.9" width="6.9" height="6.9"/><rect x="61.9" y="1260.9" width="6.9" height="6.9"/>
<rect x="42.3" y="1270.6" width="6.9" height="6.9"/><rect x="52.1" y="1270.6" width="6.9" height="6.9"/><rect x="61.9" y="1270.6" width="6.9" height="6.9"/>
</g>
<!-- bell -->
<path d="M54.3 1312.7 c-5 0 -6.2 5 -6.4 9 c-.2 4.2 -1.6 6.3 -3.4 8.300000000000001 c-.5 .6 -.2 1.7 .7 1.7 h20 c.9 0 1.2 -1.1 .7 -1.7 c-1.800000000000001 -2 -3.2 -4.100000000000001 -3.4 -8.300000000000001 c-.2 -4 -2.2 -9 -8.2 -9 z" fill="#fff"/>
<path d="M51.5 1333.2 h7.2 a3.6 3.1 0 0 1 -7.2 0 z" fill="#fff"/>
<circle cx="65.1" cy="1314" r="7.3" fill="#000"/>
<circle cx="65.1" cy="1314" r="5.7" fill="#ff6d72"/>
<!-- help -->
<circle cx="55.6" cy="1385.2" r="16.2" fill="none" stroke="#fff" stroke-width="2.2"/>
<text x="55.6" y="1394" text-anchor="middle" font-family="Liberation Sans, sans-serif" font-weight="bold" font-size="25" fill="#fff">?</text>
<!-- chevron -->
<path d="M50.3 1577.3 L59.7 1586.6 L50.3 1595.9" fill="none" stroke="#fff" stroke-width="3.5" stroke-linecap="round" stroke-linejoin="round"/>
</svg>
<!-- /ICONS -->
</div>
</body>
</html>
